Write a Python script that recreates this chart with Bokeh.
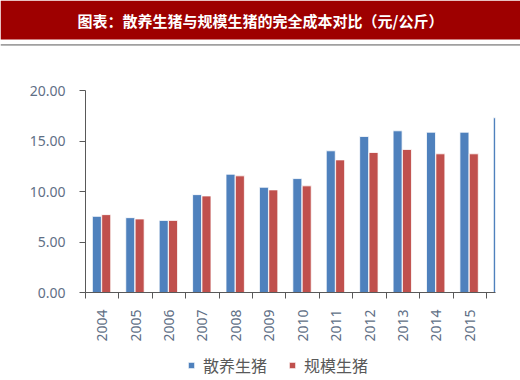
import math
import numpy as np
from bokeh.plotting import figure
from bokeh.models import (Range1d, FixedTicker, ColumnDataSource, Legend, LegendItem,
                          NumeralTickFormatter, CustomJSTickFormatter)
from bokeh.layouts import column
from bokeh.core.properties import value
from bokeh.embed import file_html
from bokeh.resources import INLINE

# ---------------- data ----------------
title_text = "图表：散养生猪与规模生猪的完全成本对比（元/公斤）"
years = ["2004", "2005", "2006", "2007", "2008", "2009", "2010",
         "2011", "2012", "2013", "2014", "2015", "2016"]
smallholder = [7.54, 7.41, 7.14, 9.69, 11.71, 10.42, 11.28,
               14.03, 15.45, 16.01, 15.87, 15.87, 17.30]
large_scale = [7.71, 7.28, 7.14, 9.56, 11.55, 10.16, 10.56,
               13.13, 13.86, 14.16, 13.73, 13.73, float("nan")]
series_names = ["散养生猪", "规模生猪"]
y_ticks = [0, 5, 10, 15, 20]

# ---------------- styles ----------------
BLUE = "#4F81BD"
RED = "#C0504D"
BAND = "#9E0000"
AXIS = "#595959"
TICK_TXT = "#5F6F86"
LEG_TXT = "#595959"
CJK = "Noto Sans CJK SC"
LAT = "Noto Sans"

# ---------------- title band ----------------
top = figure(width=520, height=46, x_range=Range1d(0, 520), y_range=Range1d(0, 46),
             output_backend="svg", toolbar_location=None,
             x_axis_type=None, y_axis_type=None, min_border=0)
top.frame_align = False
top.outline_line_color = None
top.grid.visible = False
top.quad(left=[0], right=[520], bottom=[7], top=[46], fill_color=BAND, line_color=None)
top.quad(left=[0], right=[520], bottom=[0.8], top=[2.6], fill_color="#A0A0A0", line_color=None)
top.text(x=[260], y=[26], text=[title_text], text_align="center", text_baseline="middle",
         text_color="white", text_font=value(CJK), text_font_style="bold",
         text_font_size="15px")

# ---------------- chart ----------------
n = len(years)
idx = np.arange(n)
src = ColumnDataSource(dict(
    xb=idx + 0.34, xr=idx + 0.62,
    blue=smallholder, red=large_scale, year=years))

p = figure(width=520, height=299, x_range=Range1d(0, 12.27), y_range=Range1d(0, 20),
           output_backend="svg", toolbar_location=None,
           min_border_left=85, min_border_right=25, min_border_top=44, min_border_bottom=53)
p.frame_align = False
p.outline_line_color = None
p.grid.visible = False

bar_style = dict(width=0.27, line_color="white", line_width=0.8)
rb = p.vbar(x="xb", top="blue", source=src, fill_color=BLUE, **bar_style)
rr = p.vbar(x="xr", top="red", source=src, fill_color=RED, **bar_style)

# y axis
p.yaxis.ticker = FixedTicker(ticks=y_ticks)
p.yaxis.formatter = NumeralTickFormatter(format="0.00")
p.yaxis.axis_line_color = AXIS
p.yaxis.major_tick_line_color = AXIS
p.yaxis.major_tick_in = 0
p.yaxis.major_tick_out = 6
p.yaxis.minor_tick_line_color = None
p.yaxis.major_label_standoff = 14
p.yaxis.major_label_text_font = LAT
p.yaxis.major_label_text_font_size = "14px"
p.yaxis.major_label_text_color = TICK_TXT

# x axis: labels at category centres, tick marks at boundaries
p.xaxis.ticker = FixedTicker(ticks=list(idx + 0.5), minor_ticks=list(range(n + 1)))
p.xaxis.formatter = CustomJSTickFormatter(args=dict(years=years),
                                          code="return years[Math.floor(tick)] || '';")
p.xaxis.axis_line_color = AXIS
p.xaxis.major_tick_line_color = None
p.xaxis.major_tick_in = 0
p.xaxis.major_tick_out = 0
p.xaxis.minor_tick_line_color = AXIS
p.xaxis.minor_tick_in = 0
p.xaxis.minor_tick_out = 6
p.xaxis.major_label_orientation = math.pi / 2
p.xaxis.major_label_standoff = 11
p.xaxis.major_label_text_font = LAT
p.xaxis.major_label_text_font_size = "14px"
p.xaxis.major_label_text_color = TICK_TXT

# ---------------- legend strip ----------------
leg = figure(width=520, height=35, x_range=Range1d(0, 1), y_range=Range1d(1000, 1001),
             output_backend="svg", toolbar_location=None,
             x_axis_type=None, y_axis_type=None, min_border=0)
leg.frame_align = False
leg.outline_line_color = None
leg.grid.visible = False
lb = leg.vbar(x="xb", top="blue", source=src, fill_color=BLUE, **bar_style)
lr = leg.vbar(x="xr", top="red", source=src, fill_color=RED, **bar_style)

legend = Legend(items=[LegendItem(label=series_names[0], renderers=[lb]),
                       LegendItem(label=series_names[1], renderers=[lr])],
                location=(187, 3), orientation="horizontal",
                glyph_width=8, glyph_height=8, label_standoff=8, spacing=21,
                padding=0, margin=0, border_line_color=None, background_fill_alpha=0,
                label_text_font=CJK, label_text_font_size="16px",
                label_text_color=LEG_TXT, label_height=18)
leg.add_layout(legend)

root = column(top, p, leg, spacing=0)

open("out.html", "w").write(file_html(root, INLINE))
